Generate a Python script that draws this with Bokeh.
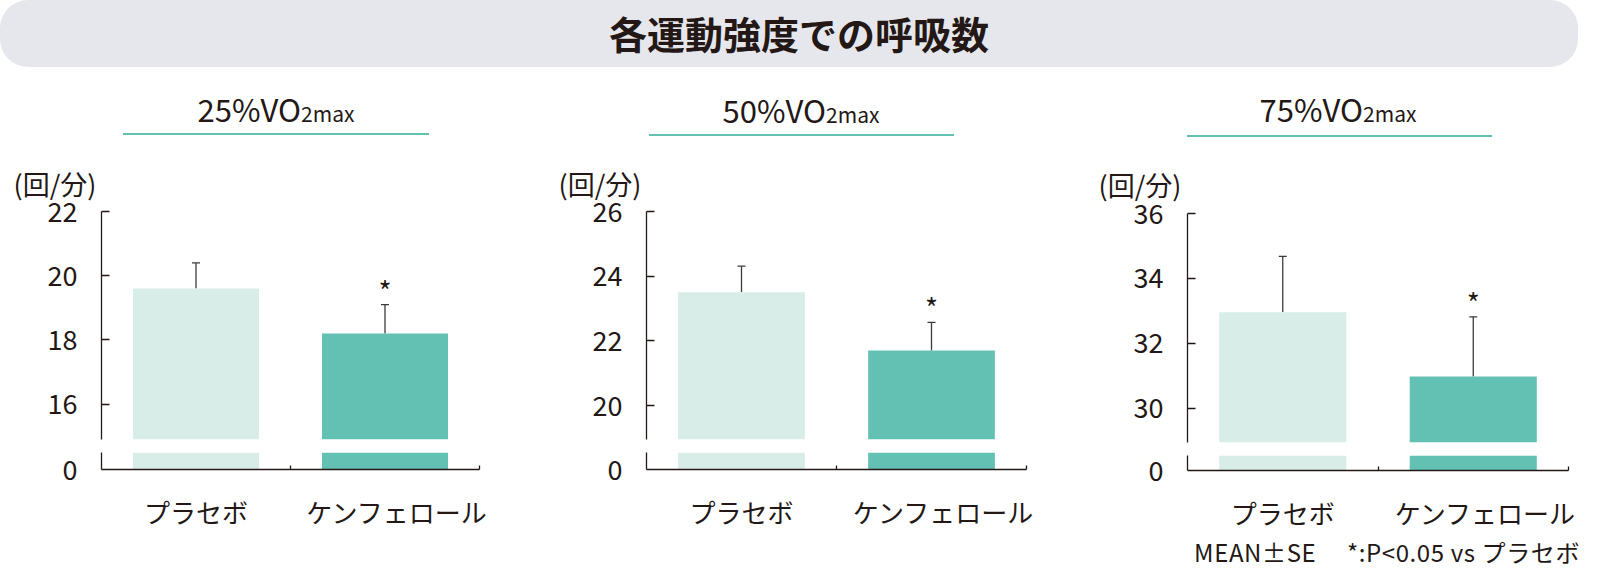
from bokeh.plotting import figure
from bokeh.models import Range1d, FixedTicker, Whisker, TeeHead, ColumnDataSource, Div
from bokeh.layouts import column, row
from bokeh.core.properties import value
from bokeh.embed import file_html
from bokeh.resources import INLINE

# ---------------- data ----------------
title_text = "各運動強度での呼吸数"
categories = ["プラセボ", "ケンフェロール"]
intensities = ["25%", "50%", "75%"]
unit_label = "(回/分)"
means_25 = [19.6, 18.2]
se_25 = [0.8, 0.9]
means_50 = [23.5, 21.7]
se_50 = [0.81, 0.87]
means_75 = [32.96, 30.98]
se_75 = [1.72, 1.84]
significant = [False, True]
yticks_25 = [16, 18, 20, 22]
yticks_50 = [20, 22, 24, 26]
yticks_75 = [30, 32, 34, 36]
axis_break = [14.9, 18.95, 28.95]
footnote_text = "MEAN±SE\u3000 *:P&lt;0.05 vs プラセボ"

# ---------------- style ----------------
FONT = "Noto Sans CJK JP"
TXT = "#231815"
TEAL = "#63c1b3"
BAR_COLORS = ["#d9ede8", "#63c1b3"]
WHISK = "#3e3a39"

# per-panel layout (pixels)
panels = [
    dict(colw=540, fl=101, fw=378, up_mbt=69, up_fh=228, low_mbt=6,
         sub_c=276, sub_top=26, ul_left=123, ul_w=306, ul_top=66, unit_off=-88, unit_so=18),
    dict(colw=545, fl=106, fw=380, up_mbt=69, up_fh=228, low_mbt=6,
         sub_c=261, sub_top=27, ul_left=109, ul_w=305, ul_top=67, unit_off=-88, unit_so=18),
    dict(colw=499, fl=102, fw=381, up_mbt=71, up_fh=229, low_mbt=9,
         sub_c=253, sub_top=26, ul_left=102, ul_w=305, ul_top=68, unit_off=-89, unit_so=20),
]
HEADER_H = 75
UP_H = 304
LOW_H = 87
LOW_FH = 17
FOOT_H = 33


def style_fig(p):
    p.outline_line_color = None
    p.grid.visible = False
    p.background_fill_color = "white"
    p.border_fill_color = None
    p.margin = 0


def make_panel(intensity, means, ses, yticks, ybreak, L):
    xs = [i + 0.5 for i in range(len(categories))]
    uppers = [m + s for m, s in zip(means, ses)]
    src = ColumnDataSource(dict(x=xs, top=means, upper=uppers, color=BAR_COLORS))
    sx = [x for x, s in zip(xs, significant) if s]
    sy = [u for u, s in zip(uppers, significant) if s]
    sig_src = ColumnDataSource(dict(x=sx, y=sy, t=["*"] * len(sx)))

    colw, fl, fw = L["colw"], L["fl"], L["fw"]

    header = Div(
        width=colw, height=HEADER_H, margin=0,
        text=f'''<div style="position:relative;width:{colw}px;height:{HEADER_H}px;font-family:'{FONT}';color:{TXT};">
<div style="position:absolute;left:{L['sub_c']-160}px;width:320px;top:{L['sub_top']}px;text-align:center;font-size:31px;line-height:31px;white-space:nowrap;">{intensity}VO<span style="font-size:21px;">2max</span></div>
<div style="position:absolute;left:{L['ul_left']}px;top:{L['ul_top']}px;width:{L['ul_w']}px;height:2px;background:{TEAL};"></div>
</div>''')

    # upper (broken) part
    p = figure(width=colw, height=UP_H, x_range=Range1d(0, len(categories)),
               y_range=Range1d(ybreak, yticks[-1] + 1e-9),
               output_backend="svg", toolbar_location=None, x_axis_location=None,
               title=unit_label, title_location="above",
               min_border_left=fl, min_border_right=colw - fl - fw,
               min_border_top=L["up_mbt"], min_border_bottom=UP_H - L["up_mbt"] - L["up_fh"])
    style_fig(p)
    p.title.align = "left"
    p.title.offset = L["unit_off"]
    p.title.standoff = L["unit_so"]
    p.title.text_font = FONT
    p.title.text_font_size = "27px"
    p.title.text_font_style = "normal"
    p.title.text_color = TXT
    p.vbar(x="x", top="top", bottom=0, width=0.667, fill_color="color", line_color=None, source=src)
    p.add_layout(Whisker(source=src, base="x", lower="top", upper="upper",
                         line_color=WHISK, line_width=1.3,
                         upper_head=TeeHead(size=8, line_color=WHISK, line_width=1.3),
                         lower_head=None))
    p.text(x="x", y="y", text="t", source=sig_src, text_align="center",
           text_baseline="alphabetic", y_offset=-15, text_font=value(FONT),
           text_font_size="28px", text_color=TXT)
    ya = p.yaxis[0]
    ya.ticker = FixedTicker(ticks=yticks)
    ya.major_tick_in = 8
    ya.major_tick_out = 0
    ya.minor_tick_line_color = None
    ya.axis_line_color = TXT
    ya.axis_line_width = 1.3
    ya.major_tick_line_color = TXT
    ya.major_tick_line_width = 1.3
    ya.major_label_text_font = FONT
    ya.major_label_text_font_size = "27px"
    ya.major_label_text_color = TXT
    ya.major_label_standoff = 24

    # lower part (0)
    q = figure(width=colw, height=LOW_H, x_range=Range1d(0, len(categories)),
               y_range=Range1d(0, 0.53),
               output_backend="svg", toolbar_location=None,
               min_border_left=fl, min_border_right=colw - fl - fw,
               min_border_top=L["low_mbt"], min_border_bottom=LOW_H - L["low_mbt"] - LOW_FH)
    style_fig(q)
    q.vbar(x="x", top="top", bottom=0, width=0.667, fill_color="color", line_color=None, source=src)
    qy = q.yaxis[0]
    qy.ticker = FixedTicker(ticks=[0])
    qy.major_tick_in = 0
    qy.major_tick_out = 0
    qy.minor_tick_line_color = None
    qy.axis_line_color = TXT
    qy.axis_line_width = 1.3
    qy.major_label_text_font = FONT
    qy.major_label_text_font_size = "27px"
    qy.major_label_text_color = TXT
    qy.major_label_standoff = 24

    label_pos = [0.5, 1.565]
    qx = q.xaxis[0]
    qx.ticker = FixedTicker(ticks=label_pos, minor_ticks=[1, 2])
    qx.major_label_overrides = {pos: c for pos, c in zip(label_pos, categories)}
    qx.major_tick_line_color = None
    qx.minor_tick_in = 4
    qx.minor_tick_out = 0
    qx.minor_tick_line_color = TXT
    qx.minor_tick_line_width = 1.3
    qx.axis_line_color = TXT
    qx.axis_line_width = 1.3
    qx.major_label_text_font = FONT
    qx.major_label_text_font_size = "26px"
    qx.major_label_text_color = TXT
    qx.major_label_standoff = 17

    return column(header, p, q, spacing=0, margin=0)


banner = Div(width=1584, height=67, margin=0, text=f'''<div style="width:1578px;height:67px;background:#e6e7ec;border-radius:28px;
display:flex;align-items:center;justify-content:center;padding-left:20px;box-sizing:border-box;
font-family:'{FONT}';font-weight:bold;font-size:38px;color:{TXT};">{title_text}</div>''')

cols = [
    make_panel(intensities[0], means_25, se_25, yticks_25, axis_break[0], panels[0]),
    make_panel(intensities[1], means_50, se_50, yticks_50, axis_break[1], panels[1]),
    make_panel(intensities[2], means_75, se_75, yticks_75, axis_break[2], panels[2]),
]

footnote = Div(width=1584, height=FOOT_H, margin=0, text=f'''<div style="width:1580px;height:{FOOT_H}px;text-align:right;padding-top:5px;box-sizing:border-box;
font-family:'{FONT}';font-size:24px;letter-spacing:0.6px;line-height:28px;color:{TXT};white-space:nowrap;">{footnote_text}</div>''')

layout = column(banner, row(*cols, spacing=0, margin=0), footnote, spacing=0, margin=0)

open("out.html", "w").write(file_html(layout, INLINE, title_text))
